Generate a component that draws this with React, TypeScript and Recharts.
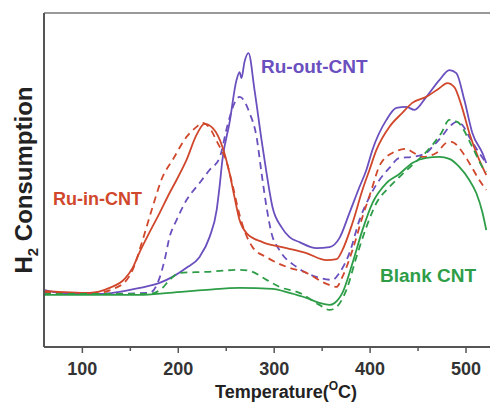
import React from "react";
import { LineChart, Line, XAxis, YAxis, ReferenceLine } from "recharts";

const xTicks = [100, 150, 200, 250, 300, 350, 400, 450, 500];
const majorTickLabels = ["100", "200", "300", "400", "500"];

// Ru-out-CNT (solid / dashed): [temperature, H2 consumption (a.u.)]
const ruOutSolid: [number, number][] = [
  [60, 17.1], [76, 16.2], [118, 15.9], [160, 17.7], [180.5, 19.2], [194, 21.0], [208.6, 23.7],
  [222, 26.9], [232.6, 32.9], [240, 41.0], [243, 47.9], [246, 56.0], [253.4, 67.1], [260.7, 79.9],
  [263.9, 82.3], [265.9, 80.5], [269, 85.3], [273.2, 88.0], [279.5, 76.9], [286.8, 62.0], [292, 52.1],
  [298.2, 41.9], [307.6, 35.9], [316, 32.9], [326.4, 31.4], [344, 29.6], [357.6, 29.9], [368, 32.6],
  [378.4, 40.1], [388.9, 47.9], [396.1, 53.0], [402.4, 59.0], [417, 68.0], [427.4, 71.6], [437.8, 71.9],
  [446.1, 71.0], [458.6, 74.9], [472.2, 79.9], [482.6, 82.9], [489.9, 82.0], [498.2, 74.0], [506.6, 64.1],
  [517, 58.1], [521.1, 55.1],
];
const ruOutDashed: [number, number][] = [
  [60, 16.2], [118, 15.9], [170.1, 16.2], [180.5, 20.7], [185.7, 26.0], [190.9, 32.9], [198.2, 38.0],
  [208.6, 44.0], [222.2, 49.1], [232.6, 53.0], [243, 56.6], [251.4, 66.5], [258.7, 73.1], [263.9, 74.9],
  [274.3, 70.1], [281.6, 62.9], [286.8, 52.1], [292, 41.9], [297.2, 34.1], [305.5, 29.0], [323.2, 24.0],
  [344, 21.0], [360.7, 20.1], [368, 22.2], [378.4, 28.1], [388.9, 38.0], [399.3, 44.9], [409.7, 50.0],
  [420.1, 53.6], [430.5, 56.6], [444, 56.9], [458.6, 58.1], [464.9, 59.9], [474.3, 62.9], [484.7, 66.5],
  [489.9, 67.4], [496.1, 66.5], [503.4, 62.9], [513.8, 58.1], [521.1, 55.1],
];

// Ru-in-CNT
const ruInSolid: [number, number][] = [
  [60, 16.8], [107.6, 16.2], [128.4, 17.7], [144.1, 20.4], [152.4, 23.7], [159.7, 28.4], [170.1, 34.4],
  [180.5, 40.1], [190.9, 46.1], [198.2, 50.0], [208.6, 56.0], [219, 63.5], [227.4, 66.8], [235.7, 65.6],
  [246.1, 59.9], [253.4, 52.1], [258.6, 44.9], [263.9, 38.0], [271.1, 34.1], [287.8, 31.4], [312.8, 29.6],
  [333.6, 28.1], [354.5, 26.0], [365, 26.3], [371.1, 29.0], [381.6, 37.1], [392, 47.0], [399.3, 53.0],
  [406.6, 59.0], [420.1, 65.9], [433.6, 70.1], [444, 73.1], [458.6, 74.9], [472.2, 77.5], [480.5, 79.0],
  [487.8, 77.8], [495, 72.5], [503.4, 64.1], [513.8, 56.0], [521.1, 51.5],
];
const ruInDashed: [number, number][] = [
  [60, 16.5], [107.6, 15.9], [138.9, 18.3], [152.4, 23.1], [162.8, 32.0], [173.2, 41.9], [183.6, 50.9],
  [194.1, 56.0], [208.6, 62.9], [219, 65.9], [225.3, 67.1], [232.6, 65.6], [241, 61.1], [250.4, 55.4],
  [256.6, 48.5], [263.9, 39.5], [277.4, 29.9], [292, 26.9], [312.8, 24.0], [333.6, 22.2], [354.5, 18.9],
  [365, 18.0], [371.1, 21.0], [381.6, 29.0], [392, 38.9], [401.4, 47.0], [409.7, 54.2], [423.2, 58.1],
  [437.8, 59.3], [444, 58.4], [454.5, 56.9], [469, 58.1], [479.4, 61.1], [484.6, 61.4], [496.1, 58.4],
  [503.4, 55.1], [513.8, 50.0], [521.1, 47.0],
];

// Blank CNT
const blankSolid: [number, number][] = [
  [60, 15.6], [118, 15.6], [159.7, 15.6], [190.9, 16.2], [229.5, 17.1], [263.9, 17.7], [298.2, 17.4],
  [315.9, 16.2], [333.6, 14.7], [347.2, 13.2], [357.6, 12.6], [363, 13.2], [371.1, 16.2], [381.6, 25.1],
  [392, 35.0], [402.4, 43.1], [417, 49.1], [430.5, 51.8], [444, 55.1], [458.6, 56.6], [472.2, 56.9],
  [482.6, 56.3], [493, 53.9], [503.4, 50.0], [510.7, 46.1], [517, 40.4], [521.1, 35.0],
];
const blankDashed: [number, number][] = [
  [60, 15.9], [170.1, 15.9], [183.6, 17.7], [190.9, 20.1], [201.4, 22.2], [229.5, 22.5], [263.9, 23.1],
  [274.3, 22.8], [292, 20.1], [305.5, 18.0], [326.4, 16.2], [347.2, 12.6], [357.6, 11.1], [365, 12.0],
  [375.3, 17.1], [385.7, 26.9], [396.1, 35.9], [406.6, 43.1], [420.1, 47.9], [430.5, 50.9], [444, 54.5],
  [458.6, 58.4], [474.3, 64.1], [482.6, 68.0], [490.9, 67.4], [506.6, 59.9], [517, 53.9], [521.1, 52.4],
];

const PURPLE = "#6a4fbe";
const RED = "#d0472b";
const GREEN = "#2e9d48";
const FONT = "'Liberation Sans', Arial, sans-serif";

const toPts = (arr: [number, number][]) => arr.map(([t, v]) => ({ t, v }));

const series = [
  { name: "Ru-out-CNT", data: toPts(ruOutSolid), color: PURPLE, dash: undefined },
  { name: "Ru-out-CNT dashed", data: toPts(ruOutDashed), color: PURPLE, dash: "7 5" },
  { name: "Ru-in-CNT", data: toPts(ruInSolid), color: RED, dash: undefined },
  { name: "Ru-in-CNT dashed", data: toPts(ruInDashed), color: RED, dash: "7 5" },
  { name: "Blank CNT", data: toPts(blankSolid), color: GREEN, dash: undefined },
  { name: "Blank CNT dashed", data: toPts(blankDashed), color: GREEN, dash: "7 5" },
];

const XTick = (props: any) => {
  const { x, y, payload } = props;
  const val = payload.value as number;
  const label = String(val);
  const major = majorTickLabels.includes(label);
  return (
    <g>
      <line x1={x} x2={x} y1={y} y2={y + (major ? 6 : 4)} stroke="#555" strokeWidth={1.5} />
      {major && (
        <text x={x} y={y + 28} textAnchor="middle" fontFamily={FONT} fontWeight="bold" fontSize={18} fill="#333">
          {label}
        </text>
      )}
    </g>
  );
};

export default function App() {
  const W = 493;
  const H = 404;
  return (
    <div style={{ position: "fixed", left: 0, top: 0, width: W, height: H, background: "#fff" }}>
      <LineChart width={W} height={H} margin={{ top: 13, right: 3, bottom: 0, left: 43 }}>
        <XAxis
          type="number"
          dataKey="t"
          domain={[60, 525]}
          allowDataOverflow
          ticks={xTicks}
          interval={0}
          height={57}
          tickSize={0}
          tickMargin={0}
          tickLine={false}
          tick={<XTick />}
          axisLine={{ stroke: "#555", strokeWidth: 2 }}
        />
        <YAxis
          type="number"
          domain={[0, 100]}
          allowDataOverflow
          width={1}
          ticks={[]}
          tick={false}
          tickLine={false}
          axisLine={{ stroke: "#555", strokeWidth: 2 }}
        />
        <ReferenceLine y={100} stroke="#777" strokeWidth={1.5} />
        <ReferenceLine x={60} stroke="#555" strokeWidth={2} />
        {series.map((s) => (
          <Line
            key={s.name}
            data={s.data}
            dataKey="v"
            type="monotone"
            stroke={s.color}
            strokeWidth={1.8}
            strokeDasharray={s.dash}
            dot={false}
            activeDot={false}
            isAnimationActive={false}
          />
        ))}
      </LineChart>
      <svg
        width={W}
        height={H}
        style={{ position: "absolute", left: 0, top: 0, pointerEvents: "none" }}
      >
        <text x={261} y={73} fontFamily={FONT} fontWeight="bold" fontSize={19} fill={PURPLE}>
          Ru-out-CNT
        </text>
        <text x={53} y={205} fontFamily={FONT} fontWeight="bold" fontSize={18} fill={RED}>
          Ru-in-CNT
        </text>
        <text x={380} y={282} fontFamily={FONT} fontWeight="bold" fontSize={19} fill={GREEN}>
          Blank CNT
        </text>
        <text x={286} y={398} textAnchor="middle" fontFamily={FONT} fontWeight="bold" fontSize={18} fill="#222">
          Temperature(
          <tspan fontSize={12} dy={-8}>O</tspan>
          <tspan dy={8}>C)</tspan>
        </text>
        <text
          transform="translate(32,180) rotate(-90)"
          textAnchor="middle"
          fontFamily={FONT}
          fontWeight="bold"
          fontSize={24}
          fill="#222"
        >
          H
          <tspan fontSize={15} dy={6}>2</tspan>
          <tspan dy={-6}> Consumption</tspan>
        </text>
      </svg>
    </div>
  );
}
